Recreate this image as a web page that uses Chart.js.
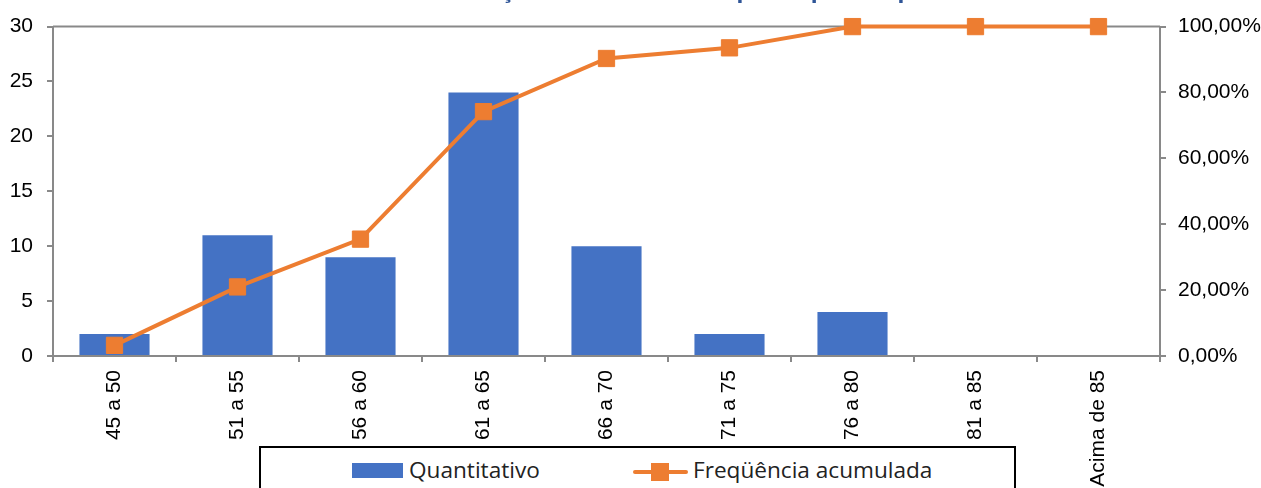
<!DOCTYPE html>
<html>
<head>
<meta charset="utf-8">
<script src="https://cdn.jsdelivr.net/npm/chart.js@4/dist/chart.umd.min.js"></script>
<style>
  body { margin: 0; background: #fff; }
  #wrap { position: relative; width: 1261px; height: 488px; overflow: hidden; }
  #legend {
    position: absolute; left: 259px; top: 446px; width: 757px; height: 60px;
    border: 2px solid #000; background: #fff; box-sizing: border-box;
    font-family: "Open Sans", sans-serif; font-size: 22.6px; color: #222;
  }
  .item { position: absolute; top: 7px; height: 30px; line-height: 30px; }
  .swatch { position: absolute; top: 15px; left: 91px; width: 51px; height: 15px; background: #4472C4; }
  .lineMark { position: absolute; top: 22px; left: 372px; width: 55px; height: 4px; background: #ED7D31; border-radius: 2px; }
  .sqMark { position: absolute; top: 15px; left: 390px; width: 18px; height: 18px; background: #ED7D31; }
</style>
</head>
<body>
<div id="wrap">
  <canvas id="c" width="1261" height="488"></canvas>
  <div id="legend">
    <div class="swatch"></div>
    <div class="item" style="left:148px">Quantitativo</div>
    <div class="lineMark"></div>
    <div class="sqMark"></div>
    <div class="item" style="left:432px">Freqüência acumulada</div>
  </div>
</div>
<script>
// faixas e valores
const categories = ['45 a 50', '51 a 55', '56 a 60', '61 a 65', '66 a 70', '71 a 75', '76 a 80', '81 a 85', 'Acima de 85'];
const quantitativo = [2, 11, 9, 24, 10, 2, 4, 0, 0];
const freqAcumulada = [3.23, 20.97, 35.48, 74.19, 90.32, 93.55, 100, 100, 100];
const leftTicks = [0, 5, 10, 15, 20, 25, 30];
const rightTicks = [0, 20, 40, 60, 80, 100];
const titleText = 'Distribuição das idades dos participantes por faixa etária';

const axisGray = '#898989';
const tickFont = { family: '"Liberation Sans", Arial, sans-serif', size: 21 };

// titulo cortado no topo: so as descendentes aparecem
const titlePlugin = {
  id: 'cutTitle',
  afterDraw(chart) {
    const ctx = chart.ctx;
    ctx.save();
    ctx.font = 'bold 20px "Liberation Sans", Arial, sans-serif';
    ctx.fillStyle = '#2F5597';
    ctx.textBaseline = 'alphabetic';
    const iC = titleText.indexOf('ç');
    const iP = titleText.indexOf('participantes');
    const xC = ctx.measureText(titleText.slice(0, iC)).width + ctx.measureText('ç').width / 2;
    const xP = ctx.measureText(titleText.slice(0, iP)).width + ctx.measureText('p').width / 2;
    const sx = (744 - 508) / (xP - xC);
    ctx.translate(508 - xC * sx, -1);
    ctx.scale(sx, 1);
    ctx.fillText(titleText, 0, 0);
    ctx.restore();
  }
};

// linha superior da area do grafico
const topLinePlugin = {
  id: 'topLine',
  beforeDatasetsDraw(chart) {
    const a = chart.chartArea;
    const ctx = chart.ctx;
    ctx.save();
    ctx.strokeStyle = axisGray;
    ctx.lineWidth = 2;
    ctx.beginPath();
    ctx.moveTo(a.left, a.top);
    ctx.lineTo(a.right, a.top);
    ctx.stroke();
    ctx.restore();
  }
};

new Chart(document.getElementById('c'), {
  data: {
    labels: categories,
    datasets: [
      {
        type: 'line',
        label: 'Freqüência acumulada',
        data: freqAcumulada,
        yAxisID: 'y1',
        borderColor: '#ED7D31',
        backgroundColor: '#ED7D31',
        borderWidth: 4,
        tension: 0,
        pointStyle: 'rect',
        pointRadius: 11.5,
        pointBorderWidth: 1,
        clip: false,
        order: 0
      },
      {
        type: 'bar',
        label: 'Quantitativo',
        data: quantitativo,
        yAxisID: 'y',
        backgroundColor: '#4472C4',
        barPercentage: 0.57,
        categoryPercentage: 1,
        order: 1
      }
    ]
  },
  options: {
    responsive: false,
    devicePixelRatio: 1,
    animation: false,
    layout: { padding: { top: 25 } },
    plugins: { legend: { display: false }, tooltip: { enabled: false }, title: { display: false } },
    scales: {
      x: {
        offset: true,
        grid: { offset: true, drawOnChartArea: false, color: axisGray, lineWidth: 2, tickLength: 6 },
        border: { color: axisGray, width: 2 },
        ticks: { color: '#000', font: tickFont, minRotation: 90, maxRotation: 90, padding: 8, autoSkip: false },
        afterFit(s) { s.height = 132; }
      },
      y: {
        position: 'left',
        min: 0, max: 30,
        afterBuildTicks(s) { s.ticks = leftTicks.map(v => ({ value: v })); },
        grid: { drawOnChartArea: false, color: axisGray, lineWidth: 2, tickLength: 6 },
        border: { color: axisGray, width: 2 },
        ticks: { color: '#000', font: tickFont, padding: 14 },
        afterFit(s) { s.width = 53; }
      },
      y1: {
        position: 'right',
        min: 0, max: 100,
        afterBuildTicks(s) { s.ticks = rightTicks.map(v => ({ value: v })); },
        grid: { drawOnChartArea: false, color: axisGray, lineWidth: 2, tickLength: 6 },
        border: { color: axisGray, width: 2 },
        ticks: {
          color: '#000', font: tickFont, padding: 12,
          callback: v => v.toFixed(2).replace('.', ',') + '%'
        },
        afterFit(s) { s.width = 101; }
      }
    }
  },
  plugins: [topLinePlugin, titlePlugin]
});
</script>
</body>
</html>
